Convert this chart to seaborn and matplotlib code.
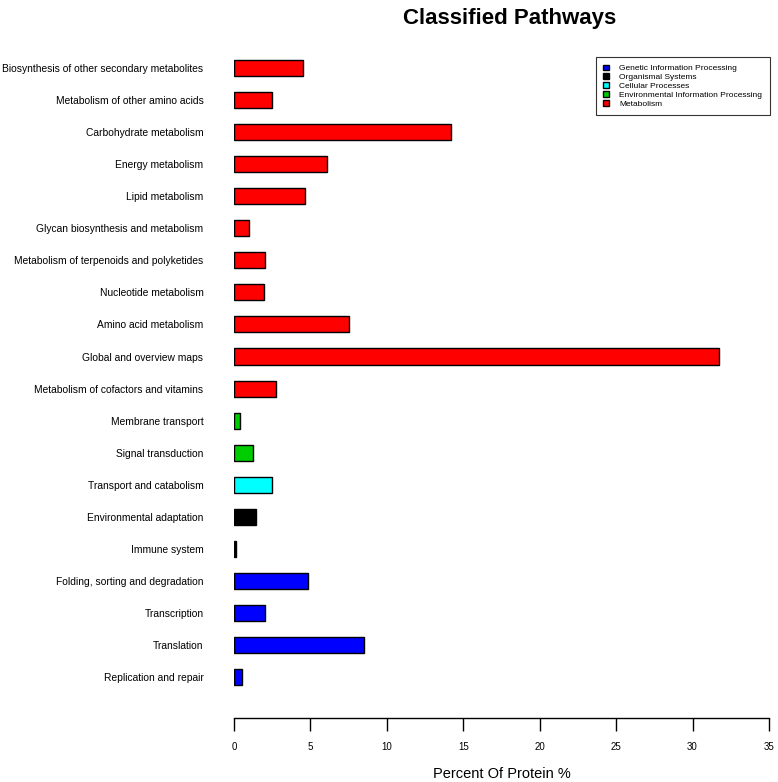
import matplotlib
matplotlib.use("Agg")
import matplotlib.pyplot as plt
import pandas as pd
import seaborn as sns

# pathways, top to bottom as drawn
pathways = [
    "Biosynthesis of other secondary metabolites",
    "Metabolism of other amino acids",
    "Carbohydrate metabolism",
    "Energy metabolism",
    "Lipid metabolism",
    "Glycan biosynthesis and metabolism",
    "Metabolism of terpenoids and polyketides",
    "Nucleotide metabolism",
    "Amino acid metabolism",
    "Global and overview maps",
    "Metabolism of cofactors and vitamins",
    "Membrane transport",
    "Signal transduction",
    "Transport and catabolism",
    "Environmental adaptation",
    "Immune system",
    "Folding, sorting and degradation",
    "Transcription",
    "Translation",
    "Replication and repair",
]
percent = [
    4.51, 2.49, 14.19, 6.08, 4.64, 0.98, 2.03, 1.94, 7.52, 31.7,
    2.77, 0.39, 1.22, 2.46, 1.46, 0.11, 4.84, 2.03, 8.5, 0.54,
]
category = (["Metabolism"] * 11
            + ["Environmental Information Processing"] * 2
            + ["Cellular Processes"]
            + ["Organismal Systems"] * 2
            + ["Genetic Information Processing"] * 4)

legend_order = [
    "Genetic Information Processing",
    "Organismal Systems",
    "Cellular Processes",
    "Environmental Information Processing",
    "Metabolism",
]
colors = ["#0000FF", "#000000", "#00FFFF", "#00CD00", "#FF0000"]
x_ticks = [0, 5, 10, 15, 20, 25, 30, 35]

df = pd.DataFrame({"pathway": pathways, "percent": percent,
                   "category": category})

sns.set_style("white")
plt.rcParams["font.family"] = ["Liberation Sans", "DejaVu Sans"]
plt.rcParams["text.color"] = "black"
plt.rcParams["axes.labelcolor"] = "black"
plt.rcParams["xtick.color"] = "black"
plt.rcParams["ytick.color"] = "black"

fig = plt.figure(figsize=(7.78, 7.82), dpi=100)
ax = fig.add_axes([0.3008, 0.0818, 0.6876, 0.867])

sns.barplot(data=df, x="percent", y="pathway", hue="category",
            hue_order=legend_order, palette=dict(zip(legend_order, colors)),
            order=pathways, dodge=False, orient="h", width=0.5,
            saturation=1, edgecolor="black", linewidth=1, ax=ax)

ax.set_xlim(0, 35)
ax.set_ylim(20.28, -0.874)
ax.set_xticks(x_ticks)
ax.set_xticklabels([str(t) for t in x_ticks], fontsize=7)
ax.tick_params(axis="x", direction="out", length=9, width=1, pad=8,
               colors="black", bottom=True)
ax.tick_params(axis="y", length=0, labelsize=7.4, pad=22, colors="black")
for s in ["top", "right", "left"]:
    ax.spines[s].set_visible(False)
ax.spines["bottom"].set_bounds(0, 35)
ax.spines["bottom"].set_color("black")
ax.spines["bottom"].set_linewidth(1)
ax.set_ylabel("")
ax.set_xlabel("Percent Of Protein %", fontsize=10.5, labelpad=11,
              color="black")

fig.suptitle("Classified Pathways", x=0.655, y=0.99, fontsize=16,
             fontweight="bold", color="black")

leg = ax.legend(loc="upper right", bbox_to_anchor=(1.009, 0.981),
                fontsize=6, frameon=True, fancybox=False, edgecolor="black",
                handlelength=0.7, handleheight=0.7, handletextpad=1.2,
                labelspacing=0.12, borderpad=0.9)
leg.get_frame().set_linewidth(0.8)

fig.savefig("out.png", dpi=100)
